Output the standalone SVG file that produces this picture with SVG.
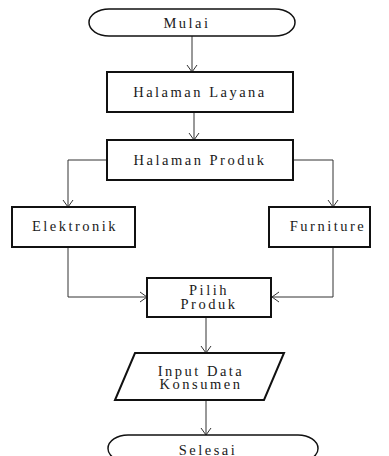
<svg xmlns="http://www.w3.org/2000/svg" width="389" height="456" viewBox="0 0 389 456">
<style>
.box{fill:#fff;stroke:#111;stroke-width:2}
.term{fill:#fff;stroke:#111;stroke-width:1.5}
.t{font-family:"Liberation Serif","Times New Roman",serif;font-size:14.5px;fill:#1a1a1a;text-anchor:middle;letter-spacing:2.5px}
.c{fill:none;stroke:#333;stroke-width:1}
</style>
<defs>
<marker id="a" markerUnits="userSpaceOnUse" markerWidth="12" markerHeight="12" viewBox="0 0 12 12" refX="10" refY="6" orient="auto">
<path d="M3,1 L10,6 L3,11" fill="none" stroke="#333" stroke-width="1"/>
</marker>
</defs>
<rect width="389" height="456" fill="#fff"/>
<g id="connectors">
<line class="c" x1="192" y1="36" x2="192" y2="72" marker-end="url(#a)"/>
<line class="c" x1="194" y1="112" x2="194" y2="140" marker-end="url(#a)"/>
<polyline class="c" points="107,160 68,160 68,207" marker-end="url(#a)"/>
<polyline class="c" points="293,160 333,160 333,207" marker-end="url(#a)"/>
<polyline class="c" points="68,247 68,297 147,297" marker-end="url(#a)"/>
<polyline class="c" points="333,247 333,297 272,297" marker-end="url(#a)"/>
<line class="c" x1="206" y1="317" x2="206" y2="353" marker-end="url(#a)"/>
<line class="c" x1="206" y1="400" x2="206" y2="435" marker-end="url(#a)"/>
</g>
<g id="mulai">
<rect class="term" x="89" y="9" width="206" height="27" rx="20" ry="13.5"/>
<text class="t" x="187" y="28">Mulai</text>
</g>
<g id="halaman-layana">
<rect class="box" x="107" y="72" width="186" height="40"/>
<text class="t" x="200" y="97">Halaman Layana</text>
</g>
<g id="halaman-produk">
<rect class="box" x="107" y="140" width="186" height="40"/>
<text class="t" x="200" y="165">Halaman Produk</text>
</g>
<g id="elektronik">
<rect class="box" x="12" y="207" width="123" height="40"/>
<text class="t" x="75" y="231">Elektronik</text>
</g>
<g id="furniture">
<rect class="box" x="269" y="207" width="101" height="40"/>
<text class="t" x="328" y="231">Furniture</text>
</g>
<g id="pilih-produk">
<rect class="box" x="147" y="278" width="124" height="39"/>
<text class="t" x="209" y="295">Pilih</text>
<text class="t" x="209" y="308.5">Produk</text>
</g>
<g id="input-data">
<polygon class="box" points="135,353 284,353 264,400 115,400"/>
<text class="t" x="201" y="375.5">Input Data</text>
<text class="t" x="201" y="389">Konsumen</text>
</g>
<g id="selesai">
<rect class="term" x="108" y="435" width="210" height="27" rx="20" ry="13.5"/>
<text class="t" x="208" y="455">Selesai</text>
</g>
</svg>
